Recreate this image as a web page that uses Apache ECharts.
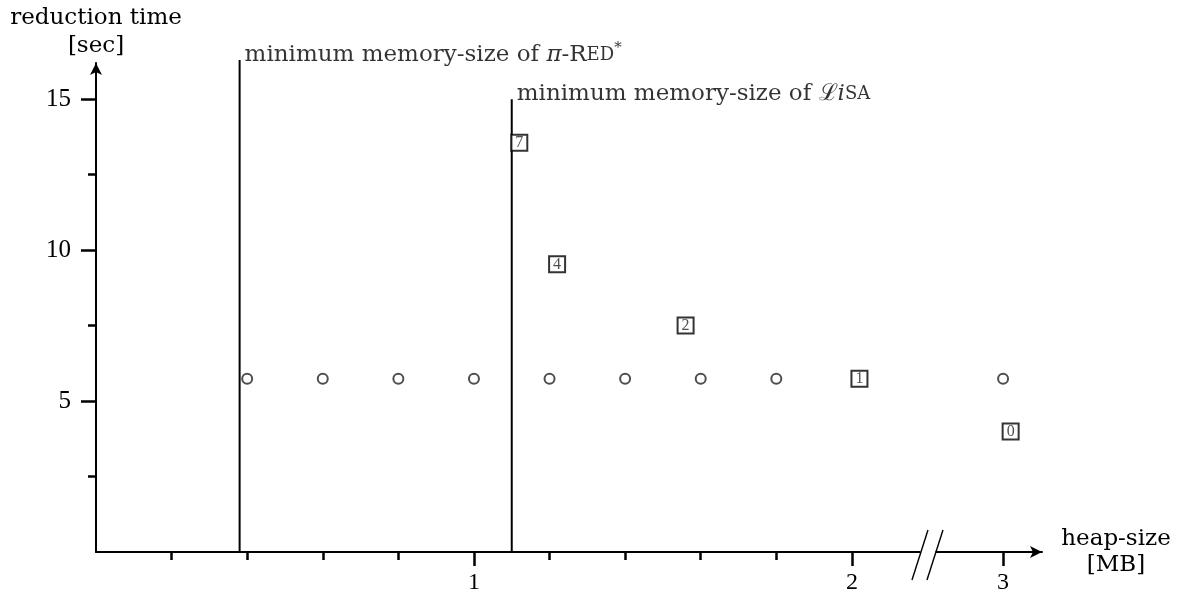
<!DOCTYPE html>
<html>
<head>
<meta charset="utf-8">
<title>reduction time vs heap-size</title>
<script src="https://cdn.jsdelivr.net/npm/echarts@6/dist/echarts.min.js"></script>
<style>
  html, body { margin: 0; padding: 0; background: #fff; }
  #chart { width: 1178px; height: 597px; }
</style>
</head>
<body>
<div id="chart"></div>
<script>
// heap-size [MB] / reduction time [sec]
const circleX = [0.4, 0.6, 0.8, 1.0, 1.2, 1.4, 1.6, 1.8, 3.0];
const circleY = [5.74, 5.74, 5.74, 5.74, 5.74, 5.74, 5.74, 5.74, 5.74];

const squareX = [1.12, 1.22, 1.56, 2.02, 3.02];
const squareY = [13.56, 9.53, 7.5, 5.74, 3.99];
const squareLabels = ['7', '4', '2', '1', '0'];

// minimum memory-size markers (pi-RED*, LiSA)
const boundX = [0.38, 1.1];
const boundTop = [16.3, 15.0];

// axes
const xMajorTicks = [1, 2, 3];
const xLabels = [1, 2, 3];
const xMinorTicks = [0.2, 0.4, 0.6, 0.8, 1.2, 1.4, 1.6, 1.8];
const yMajorTicks = [5, 10, 15];
const yLabels = [5, 10, 15];
const yMinorTicks = [2.5, 7.5, 12.5];
const xBreak = { start: 2.18, end: 2.82 };

const serif = 'DejaVu Serif';
const numFont = 'Liberation Serif';

const chart = echarts.init(document.getElementById('chart'));

const baseX = {
  type: 'value',
  min: 0,
  max: 3.103,
  breaks: [{ start: xBreak.start, end: xBreak.end, gap: 0.04 }],
  breakArea: { show: false },
  splitLine: { show: false }
};

const boundRich = {
  n: { fontFamily: serif, fontSize: 23, color: '#000', lineHeight: 28 },
  it: { fontFamily: serif, fontSize: 23, fontStyle: 'italic', color: '#000', lineHeight: 28 },
  sc: { fontFamily: serif, fontSize: 18, color: '#000', lineHeight: 28 },
  sup: { fontFamily: serif, fontSize: 15, color: '#000', lineHeight: 14, verticalAlign: 'top' }
};
const boundTexts = [
  '{n|minimum memory-size of }{it|π}{n|-R}{sc|ED}{sup|*}',
  '{n|minimum memory-size of }{n|ℒ}{it|i}{sc|SA}'
];

const option = {
  animation: false,
  backgroundColor: '#fff',
  grid: { left: 96, top: 63, right: 136, bottom: 45, containLabel: false, outerBoundsMode: 'none' },
  xAxis: [
    Object.assign({}, baseX, {
      name: 'heap-size\n[MB]',
      nameLocation: 'end',
      nameGap: 74,
      nameTextStyle: { fontFamily: serif, fontSize: 23, color: '#000', align: 'center', verticalAlign: 'middle', lineHeight: 26 },
      axisLine: { lineStyle: { color: '#000', width: 2 }, symbol: ['none', 'arrow'], symbolSize: [9, 12] },
      axisTick: { customValues: xMajorTicks, length: 14, lineStyle: { color: '#000', width: 2.5 } },
      axisLabel: { customValues: xLabels, margin: 19, fontFamily: numFont, fontSize: 24, color: '#000' }
    }),
    Object.assign({}, baseX, {
      position: 'bottom',
      axisLine: { show: false },
      axisTick: { customValues: xMinorTicks, length: 8, lineStyle: { color: '#000', width: 2.5 } },
      axisLabel: { show: false }
    })
  ],
  yAxis: [
    {
      type: 'value',
      min: 0,
      max: 16.2,
      name: 'reduction time\n[sec]',
      nameLocation: 'end',
      nameGap: 3,
      nameTextStyle: { fontFamily: serif, fontSize: 23, color: '#000', align: 'center', lineHeight: 28 },
      axisLine: { show: true, lineStyle: { color: '#000', width: 2 }, symbol: ['none', 'arrow'], symbolSize: [9, 12] },
      axisTick: { show: true, customValues: yMajorTicks, length: 15, lineStyle: { color: '#000', width: 2.5 } },
      axisLabel: { customValues: yLabels, margin: 25, fontFamily: numFont, fontSize: 25, color: '#000' },
      splitLine: { show: false }
    },
    {
      type: 'value',
      min: 0,
      max: 16.2,
      position: 'left',
      axisLine: { show: false },
      axisTick: { show: true, customValues: yMinorTicks, length: 8, lineStyle: { color: '#000', width: 2.5 } },
      axisLabel: { show: false },
      splitLine: { show: false }
    }
  ],
  series: [
    ...boundX.map((x, i) => ({
      type: 'line',
      data: [[x, 0], [x, boundTop[i]]],
      symbol: 'none',
      clip: false,
      lineStyle: { color: '#000', width: 2 },
      z: 2
    })),
    {
      type: 'scatter',
      data: boundX.map((x, i) => [x, boundTop[i]]),
      symbolSize: 0,
      clip: false,
      label: {
        show: true,
        position: 'right',
        distance: 5,
        offset: [0, -5],
        formatter: p => boundTexts[p.dataIndex],
        rich: boundRich
      },
      z: 3
    },
    {
      type: 'scatter',
      data: circleX.map((x, i) => [x, circleY[i]]),
      symbol: 'emptyCircle',
      symbolSize: 10,
      itemStyle: { color: '#222', borderColor: '#222', borderWidth: 1.3 },
      z: 4
    },
    {
      type: 'scatter',
      data: squareX.map((x, i) => [x, squareY[i]]),
      symbol: 'rect',
      symbolSize: 16,
      itemStyle: { color: '#fff', borderColor: '#000', borderWidth: 2 },
      label: {
        show: true,
        position: 'inside',
        formatter: p => squareLabels[p.dataIndex],
        fontFamily: numFont,
        fontSize: 16,
        color: '#222'
      },
      z: 5
    }
  ]
};

chart.setOption(option);

// "//" axis-break mark between 2 and 3
function drawBreakMark() {
  const p2 = chart.convertToPixel({ xAxisIndex: 0, yAxisIndex: 0 }, [2, 0]);
  const p3 = chart.convertToPixel({ xAxisIndex: 0, yAxisIndex: 0 }, [3, 0]);
  const c = (p2[0] + p3[0]) / 2;
  const y = p2[1];
  const slash = { stroke: '#000', lineWidth: 1.4 };
  chart.setOption({
    graphic: [
      { type: 'rect', shape: { x: c - 7, y: y - 3, width: 15, height: 6 }, style: { fill: '#fff' }, z: 50 },
      { type: 'line', shape: { x1: c - 15.5, y1: y + 28, x2: c + 0.5, y2: y - 22 }, style: slash, z: 51 },
      { type: 'line', shape: { x1: c - 0.5, y1: y + 28, x2: c + 15.5, y2: y - 22 }, style: slash, z: 51 }
    ]
  });
}
drawBreakMark();
</script>
</body>
</html>
